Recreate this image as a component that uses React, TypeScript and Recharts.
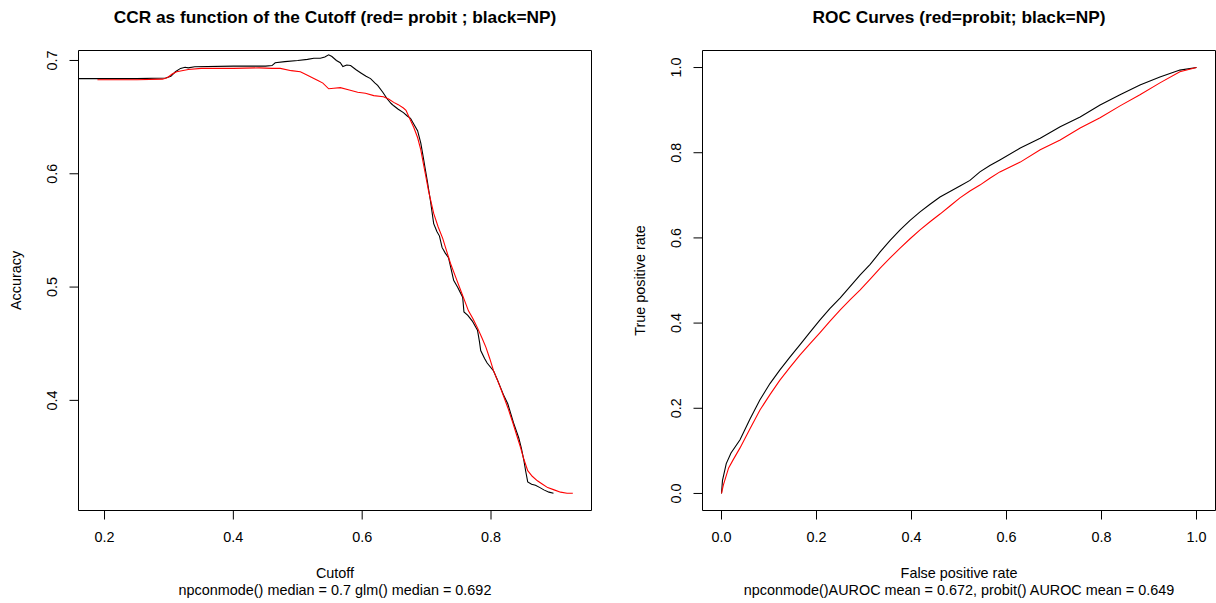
import React from 'react';
import { LineChart, Line, XAxis, YAxis, ReferenceArea } from 'recharts';

const FONT = '"Liberation Sans", Arial, Helvetica, sans-serif';

// ---- Left panel: CCR as function of the cutoff ----
const ccrXTicks = [0.2, 0.4, 0.6, 0.8];
const ccrYTicks = [0.4, 0.5, 0.6, 0.7];
const ccrXDomain = [0.1596, 0.956];
const ccrYDomain = [0.3028, 0.7088];

const npCutoff = [0.160, 0.250, 0.295, 0.303, 0.310, 0.318, 0.325, 0.330, 0.340, 0.400, 0.450, 0.460, 0.465, 0.480, 0.500, 0.515, 0.525, 0.535, 0.542, 0.548, 0.553, 0.560, 0.566, 0.570, 0.576, 0.582, 0.590, 0.598, 0.606, 0.613, 0.620, 0.624, 0.632, 0.639, 0.645, 0.649, 0.656, 0.664, 0.670, 0.675, 0.680, 0.686, 0.691, 0.695, 0.698, 0.701, 0.706, 0.711, 0.716, 0.720, 0.724, 0.729, 0.734, 0.738, 0.742, 0.748, 0.756, 0.758, 0.764, 0.771, 0.779, 0.782, 0.784, 0.790, 0.794, 0.804, 0.810, 0.815, 0.820, 0.826, 0.835, 0.843, 0.847, 0.851, 0.854, 0.857, 0.863, 0.869, 0.876, 0.882, 0.890, 0.897];
const npAccuracy = [0.684, 0.684, 0.6845, 0.686, 0.690, 0.693, 0.694, 0.6935, 0.6945, 0.695, 0.695, 0.6955, 0.698, 0.699, 0.700, 0.701, 0.702, 0.702, 0.703, 0.705, 0.7035, 0.700, 0.698, 0.6947, 0.696, 0.6955, 0.692, 0.689, 0.686, 0.684, 0.680, 0.678, 0.672, 0.666, 0.662, 0.660, 0.657, 0.654, 0.651, 0.649, 0.644, 0.638, 0.627, 0.614, 0.604, 0.594, 0.576, 0.556, 0.549, 0.545, 0.535, 0.530, 0.526, 0.516, 0.506, 0.500, 0.491, 0.478, 0.475, 0.470, 0.462, 0.452, 0.444, 0.437, 0.433, 0.426, 0.418, 0.411, 0.404, 0.397, 0.380, 0.367, 0.358, 0.347, 0.337, 0.328, 0.326, 0.325, 0.323, 0.321, 0.319, 0.318];

const probitCutoff = [0.189, 0.250, 0.290, 0.298, 0.305, 0.312, 0.320, 0.330, 0.350, 0.400, 0.440, 0.460, 0.473, 0.490, 0.504, 0.515, 0.525, 0.532, 0.539, 0.548, 0.556, 0.566, 0.580, 0.593, 0.605, 0.618, 0.633, 0.641, 0.649, 0.656, 0.664, 0.668, 0.672, 0.676, 0.680, 0.686, 0.691, 0.695, 0.698, 0.703, 0.707, 0.711, 0.718, 0.725, 0.731, 0.737, 0.745, 0.753, 0.759, 0.765, 0.772, 0.779, 0.786, 0.792, 0.798, 0.804, 0.812, 0.820, 0.827, 0.834, 0.840, 0.846, 0.851, 0.857, 0.864, 0.872, 0.880, 0.888, 0.898, 0.908, 0.918, 0.927];
const probitAccuracy = [0.683, 0.683, 0.6835, 0.685, 0.688, 0.690, 0.691, 0.692, 0.693, 0.693, 0.6935, 0.693, 0.693, 0.691, 0.690, 0.687, 0.684, 0.682, 0.680, 0.675, 0.6755, 0.676, 0.674, 0.672, 0.671, 0.669, 0.668, 0.666, 0.663, 0.661, 0.658, 0.656, 0.651, 0.646, 0.641, 0.632, 0.621, 0.609, 0.600, 0.585, 0.575, 0.565, 0.553, 0.543, 0.532, 0.521, 0.509, 0.497, 0.488, 0.479, 0.472, 0.464, 0.455, 0.447, 0.437, 0.426, 0.415, 0.403, 0.392, 0.380, 0.369, 0.358, 0.348, 0.338, 0.333, 0.329, 0.326, 0.323, 0.321, 0.319, 0.318, 0.318];

// ---- Right panel: ROC curves ----
const rocTicks = [0, 0.2, 0.4, 0.6, 0.8, 1.0];
const rocDomain = [-0.04, 1.04];

const npFpr = [0, 0.002, 0.010, 0.020, 0.039, 0.060, 0.081, 0.102, 0.123, 0.144, 0.165, 0.186, 0.207, 0.228, 0.250, 0.271, 0.292, 0.313, 0.334, 0.355, 0.376, 0.397, 0.418, 0.439, 0.460, 0.481, 0.502, 0.523, 0.544, 0.565, 0.586, 0.629, 0.671, 0.713, 0.755, 0.797, 0.839, 0.881, 0.923, 0.965, 1.0];
const npTpr = [0, 0.030, 0.070, 0.095, 0.126, 0.175, 0.220, 0.258, 0.290, 0.320, 0.349, 0.378, 0.407, 0.434, 0.459, 0.486, 0.513, 0.538, 0.567, 0.594, 0.619, 0.641, 0.661, 0.679, 0.696, 0.709, 0.722, 0.735, 0.755, 0.770, 0.783, 0.811, 0.834, 0.861, 0.884, 0.912, 0.936, 0.959, 0.978, 0.994, 1.0];

const probitFpr = [0, 0.004, 0.015, 0.025, 0.039, 0.060, 0.081, 0.102, 0.123, 0.144, 0.165, 0.186, 0.207, 0.228, 0.250, 0.271, 0.292, 0.313, 0.334, 0.355, 0.376, 0.397, 0.418, 0.439, 0.460, 0.481, 0.502, 0.523, 0.544, 0.565, 0.586, 0.629, 0.671, 0.713, 0.755, 0.797, 0.839, 0.881, 0.923, 0.965, 1.0];
const probitTpr = [0, 0.020, 0.060, 0.080, 0.107, 0.152, 0.196, 0.232, 0.266, 0.296, 0.325, 0.351, 0.377, 0.404, 0.431, 0.455, 0.478, 0.503, 0.529, 0.553, 0.576, 0.598, 0.619, 0.638, 0.656, 0.675, 0.694, 0.710, 0.724, 0.740, 0.755, 0.778, 0.807, 0.830, 0.858, 0.882, 0.910, 0.936, 0.964, 0.990, 1.0];

const zip = (xs: number[], ys: number[]) => xs.map((x, i) => ({ x, y: ys[i] }));

const fmt1 = (v: number) => v.toFixed(1);

const XTick = (props: any) => {
  const { x, y, payload } = props;
  return (
    <text x={x} y={y + 22.5} textAnchor="middle" fontSize={14.4} fontFamily={FONT} fill="#000">
      {fmt1(payload.value)}
    </text>
  );
};

const YTick = (props: any) => {
  const { x, y, payload } = props;
  const bx = x - 12;
  return (
    <text x={bx} y={y} textAnchor="middle" fontSize={14.4} fontFamily={FONT} fill="#000" transform={`rotate(-90, ${bx}, ${y})`}>
      {fmt1(payload.value)}
    </text>
  );
};

type PanelProps = {
  left: number;
  plotLeft: number;
  marginRight: number;
  xDomain: number[];
  yDomain: number[];
  xTicks: number[];
  yTicks: number[];
  series: { data: { x: number; y: number }[]; color: string; name: string }[];
  title: string;
  xLabel: string;
  yLabel: string;
  sub: string;
};

const W = 608;
const H = 603;
const TOP = 50.5;
const BOTTOM = 510.5;

const Panel = (p: PanelProps) => {
  const plotRight = W - p.marginRight;
  const cx = (p.plotLeft + plotRight) / 2;
  const cy = (TOP + BOTTOM) / 2;
  const ylx = p.plotLeft - 57.5;
  return (
    <div style={{ position: 'absolute', left: p.left, top: 0, width: W, height: H }}>
      <LineChart width={W} height={H} margin={{ top: TOP, right: p.marginRight, bottom: 0, left: 0 }}>
        <XAxis
          type="number"
          dataKey="x"
          domain={p.xDomain}
          ticks={p.xTicks}
          allowDataOverflow
          axisLine={false}
          tickLine={{ stroke: '#000', strokeWidth: 1 }}
          tickSize={9}
          tickMargin={0}
          height={H - BOTTOM}
          tick={<XTick />}
          interval={0}
        />
        <YAxis
          type="number"
          dataKey="y"
          domain={p.yDomain}
          ticks={p.yTicks}
          allowDataOverflow
          axisLine={false}
          tickLine={{ stroke: '#000', strokeWidth: 1 }}
          tickSize={9}
          tickMargin={0}
          width={p.plotLeft}
          tick={<YTick />}
          interval={0}
        />
        <ReferenceArea
          x1={p.xDomain[0]}
          x2={p.xDomain[1]}
          y1={p.yDomain[0]}
          y2={p.yDomain[1]}
          fill="none"
          fillOpacity={0}
          stroke="#000"
          strokeWidth={1}
          ifOverflow="visible"
        />
        {p.series.map((s) => (
          <Line
            key={s.name}
            data={s.data}
            dataKey="y"
            name={s.name}
            type="linear"
            stroke={s.color}
            strokeWidth={1.1}
            dot={false}
            activeDot={false}
            isAnimationActive={false}
          />
        ))}
        <text x={cx} y={23} textAnchor="middle" fontSize={17.3} fontWeight="bold" fontFamily={FONT} fill="#000">
          {p.title}
        </text>
        <text x={cx} y={578} textAnchor="middle" fontSize={14.4} fontFamily={FONT} fill="#000">
          {p.xLabel}
        </text>
        <text x={cx} y={595} textAnchor="middle" fontSize={14.4} fontFamily={FONT} fill="#000">
          {p.sub}
        </text>
        <text x={ylx} y={cy} textAnchor="middle" fontSize={14.4} fontFamily={FONT} fill="#000" transform={`rotate(-90, ${ylx}, ${cy})`}>
          {p.yLabel}
        </text>
      </LineChart>
    </div>
  );
};

export default function App() {
  return (
    <div style={{ position: 'absolute', left: 0, top: 0, width: 1216, height: 603, background: '#fff', overflow: 'hidden' }}>
      <Panel
        left={0}
        plotLeft={78.5}
        marginRight={W - 591.5}
        xDomain={ccrXDomain}
        yDomain={ccrYDomain}
        xTicks={ccrXTicks}
        yTicks={ccrYTicks}
        series={[
          { data: zip(npCutoff, npAccuracy), color: '#000000', name: 'NP' },
          { data: zip(probitCutoff, probitAccuracy), color: '#FF0000', name: 'probit' },
        ]}
        title="CCR as function of the Cutoff (red= probit ; black=NP)"
        xLabel="Cutoff"
        yLabel="Accuracy"
        sub="npconmode() median = 0.7 glm() median = 0.692"
      />
      <Panel
        left={608}
        plotLeft={94.5}
        marginRight={0.5}
        xDomain={rocDomain}
        yDomain={rocDomain}
        xTicks={rocTicks}
        yTicks={rocTicks}
        series={[
          { data: zip(npFpr, npTpr), color: '#000000', name: 'NP' },
          { data: zip(probitFpr, probitTpr), color: '#FF0000', name: 'probit' },
        ]}
        title="ROC Curves (red=probit; black=NP)"
        xLabel="False positive rate"
        yLabel="True positive rate"
        sub="npconmode()AUROC mean = 0.672, probit() AUROC mean = 0.649"
      />
    </div>
  );
}
